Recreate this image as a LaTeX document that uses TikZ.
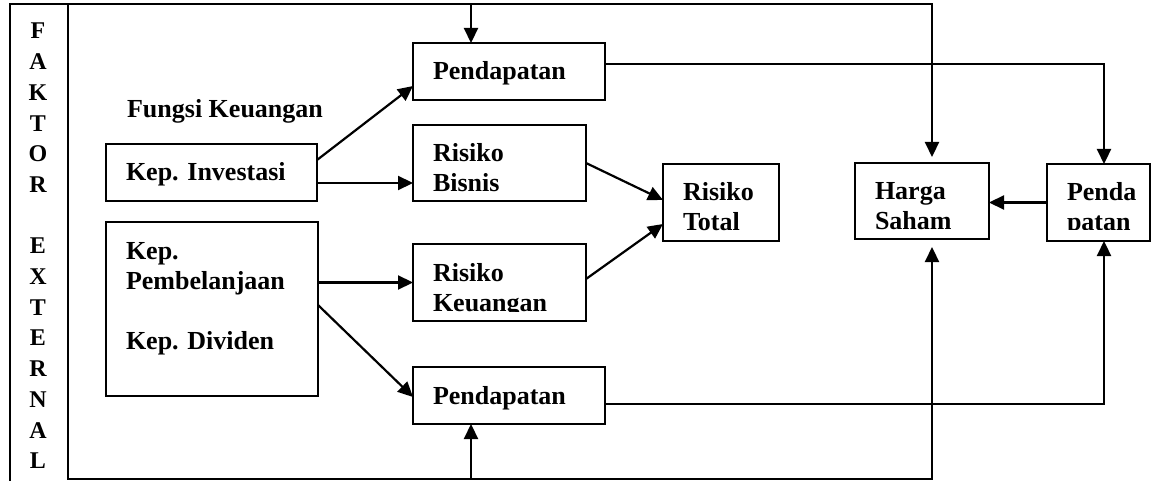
\documentclass[tikz,border=0pt]{standalone}
\usepackage{fontspec}
\setmainfont{Liberation Serif}
\usetikzlibrary{arrows.meta}
\newcommand\myfs{\fontsize{26}{30}\selectfont\bfseries}
\newcommand\myfl{\fontsize{24}{30.7}\selectfont\bfseries}
\hyphenpenalty=10000
\frenchspacing
\begin{document}
\begin{tikzpicture}[x=1pt,y=-1pt,line width=2.2pt,
  bx/.style={draw, line width=2.2pt, font=\myfs, align=left, anchor=north west,
    inner xsep=20pt, inner ysep=0pt, outer sep=0pt, text height=37pt},
  tx/.style={bx, draw=none},
  arr/.style={-{Triangle[length=15pt,width=14pt]}, line width=2.2pt},
  letters/.style={font=\myfl, align=center, text width=30pt, anchor=base, inner sep=0pt},
  plain/.style={font=\myfs, anchor=base west, inner sep=0pt}]
\useasboundingbox (0,0) rectangle (1151,481);

% boxes
\node[bx, text width=152pt, text depth=20pt] (pend1) at (413,43) {Pendapatan};
\node[bx, text width=171pt, text depth=20pt] (inv) at (106,144) {Kep. Investasi};
\node[bx, text width=133pt, text depth=39pt] (rb) at (413,125) {Risiko\\Bisnis};
\node[bx, text width=76pt, text depth=40pt] (rt) at (663,164) {Risiko\\Total};
\node[bx, text width=133pt, text depth=40pt] (rk) at (413,244) {};
\begin{scope}
  \clip (rk.north west) rectangle ([yshift=10pt]rk.south east);
  \node[tx, text width=133pt, text depth=40pt] (rkt) at (rk.north west) {Risiko\\Keuangan};
\end{scope}
\node[bx, text width=172pt, text depth=137pt] (kpd) at (106,222) {Kep.\\Pembelanjaan\\[30pt]Kep. Dividen};
\node[bx, text width=152pt, text depth=20pt] (pend2) at (413,367) {Pendapatan};
\node[bx, text width=94pt, text depth=39pt] (hs) at (855,163) {Harga\\Saham};
\node[bx, text width=63pt, text depth=40pt] (pp) at (1047,164) {};
\begin{scope}
  \clip (pp.north west) rectangle ([yshift=11pt]pp.south east);
  \node[tx, text width=63pt, text depth=40pt] (ppt) at (pp.north west) {\mbox{Penda}\\\mbox{patan}};
\end{scope}

% texts
\node[plain] (fk) at (126,118) {Fungsi Keuangan};
\node[letters] (faktor) at (38,39) {F\\A\\K\\T\\O\\R\\[30.7pt]E\\X\\T\\E\\R\\N\\A\\L};

% frame coordinates
\coordinate (fl) at (10,483);
\coordinate (ftl) at (10,4);
\coordinate (ftr) at (932,4);
\coordinate (mtl) at (68,4);
\coordinate (mbl) at (68,479);
\coordinate (fbr) at (932,479);
\coordinate (t1) at (471,4);
\coordinate (b1) at (471,479);

% frame and external arrows
\draw[arr, shorten >=6pt] (fl) -- (ftl) -- (ftr) -- (ftr |- hs.north);
\draw[arr, shorten >=8pt] (mtl) -- (mbl) -- (fbr) -- (fbr |- hs.south);
\draw[arr] (t1) -- (t1 |- pend1.north);
\draw[arr] (b1) -- (b1 |- pend2.south);

% connectors
\draw[arr] ([yshift=12.5pt]inv.east) -- ([yshift=-14.5pt]pend1.west);
\draw[arr] ([yshift=-10.5pt]inv.east) -- ([yshift=-10.5pt]inv.east -| rb.west);
\draw[arr] (kpd.east |- rk.west) -- (rk.west);
\draw[arr] ([yshift=4pt]kpd.east) -- ([yshift=-1.5pt]pend2.west);
\draw[arr] (rb.east) -- ([yshift=2.5pt]rt.west);
\draw[arr] ([yshift=3.5pt]rk.east) -- ([yshift=-21.5pt]rt.west);
\draw[arr] ([yshift=7.5pt]pend1.east) -| ([xshift=5.5pt]pp.north);
\draw[arr] ([yshift=-8.5pt]pend2.east) -| ([xshift=5.5pt]pp.south);
\draw[arr] (pp.west) -- (pp.west -| hs.east);
\end{tikzpicture}
\end{document}
